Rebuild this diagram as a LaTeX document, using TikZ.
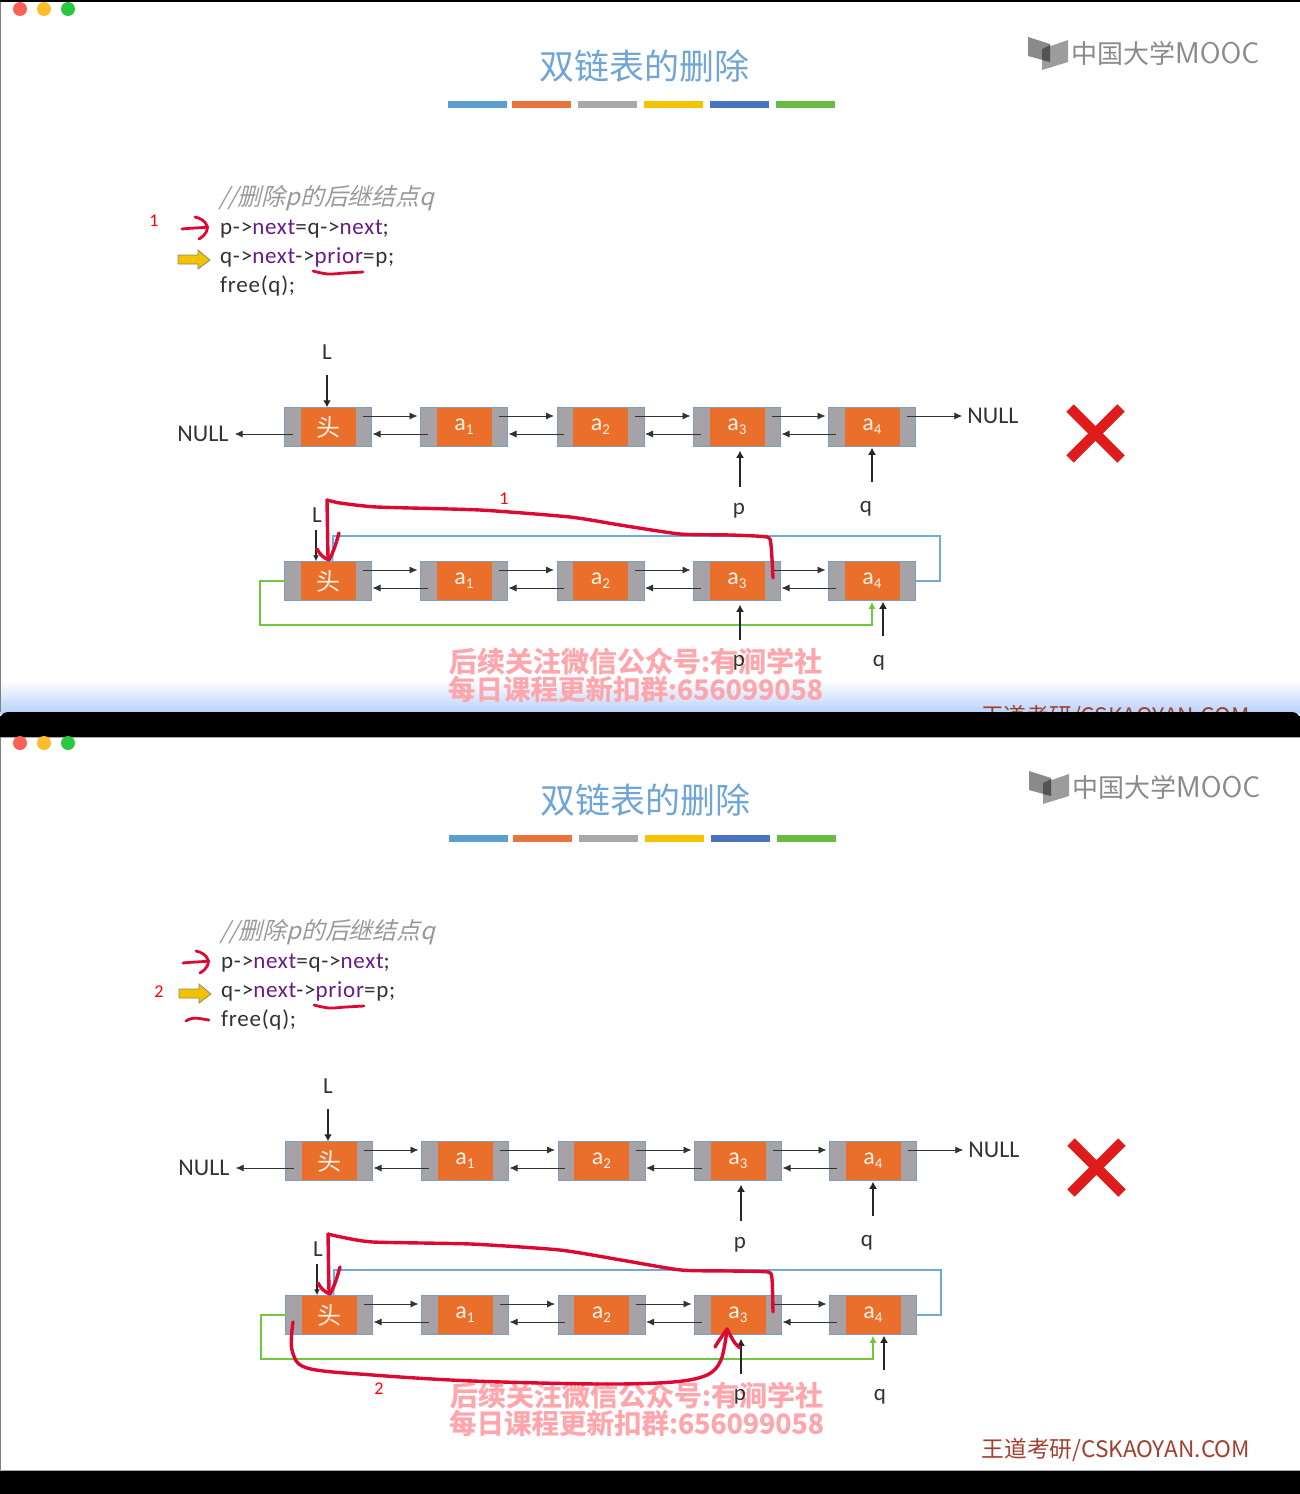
\documentclass[tikz,border=0pt]{standalone}
\usepackage{fontspec}
\setmainfont{Carlito}
\newfontfamily\codefont[LetterSpace=3.2]{Carlito}
\newfontfamily\cjk{Noto Sans CJK SC}
\newfontfamily\cjkslant[FakeSlant=0.25]{Noto Sans CJK SC}
\newfontfamily\cjkbold[FakeBold=0.7]{Noto Sans CJK SC Bold}
\usetikzlibrary{arrows.meta,calc}
\definecolor{titleblue}{HTML}{6FA6D6}
\definecolor{barblue}{HTML}{5B9FD0}
\definecolor{barorange}{HTML}{E8743A}
\definecolor{bargrey}{HTML}{A8A8A8}
\definecolor{bargold}{HTML}{F5C400}
\definecolor{barnavy}{HTML}{4A72BE}
\definecolor{bargreen}{HTML}{68BC44}
\definecolor{gold}{HTML}{F2C200}
\definecolor{fadeblue}{HTML}{B9D1FA}
\definecolor{cellgrey}{HTML}{A6A3A8}
\definecolor{cellorange}{HTML}{EA6F2A}
\definecolor{celledge}{HTML}{7F9DB8}
\definecolor{inkdark}{HTML}{333333}
\definecolor{codepurple}{HTML}{6A1B8A}
\definecolor{penred}{HTML}{DC0A32}
\definecolor{markred}{HTML}{E01B1B}
\definecolor{loopblue}{HTML}{6FAAD8}
\definecolor{loopgreen}{HTML}{72C83C}
\definecolor{wm}{HTML}{FFA5AC}
\definecolor{footer}{HTML}{A2402E}
\definecolor{logogrey}{HTML}{8A8A8A}
\definecolor{dotred}{HTML}{FF5F57}
\definecolor{dotamber}{HTML}{FFBD2E}
\definecolor{dotgreen}{HTML}{28C940}
\newcommand{\fs}[1]{\fontsize{#1}{#1}\selectfont}
\newcommand{\sbs}[1]{\raisebox{-4pt}{\fs{15}#1}}
\tikzset{
 x=1pt,y=-1pt,
 greycell/.style={draw=celledge,line width=.8pt,fill=cellgrey,minimum width=87pt,minimum height=39.5pt,inner sep=0pt,outer sep=0pt},
 orangecell/.style={fill=cellorange,draw=none,minimum width=55pt,minimum height=38pt,inner sep=0pt,text=white!90!orange,font=\fs{24}},
 label/.style={inner sep=0pt,text=inkdark,font=\fs{23}},
 codeline/.style={inner sep=0pt,anchor=west,text=inkdark,font=\fs{23}\codefont},
 link/.style={draw=inkdark,line width=.8pt,-{Latex[length=8pt,width=7pt]}},
 pointer/.style={draw=black!85,line width=1.6pt,-{Latex[length=7pt,width=8pt]}},
 bluewire/.style={draw=loopblue,line width=1.8pt},
 greenwire/.style={draw=loopgreen,line width=1.8pt,-{Latex[length=7pt,width=7pt]}},
 pen/.style={draw=penred,line width=3.4pt,line cap=round,line join=round},
 pen2/.style={draw=penred,line width=2.8pt,line cap=round,line join=round},
 redmark/.style={inner sep=0pt,text=red,font=\fs{18}},
}
\newcommand{\listrow}[2]{%
 \node[greycell] (#1n0) at (328,#2) {};
 \node[greycell] (#1n1) at (464,#2) {};
 \node[greycell] (#1n2) at (600.5,#2) {};
 \node[greycell] (#1n3) at (737,#2) {};
 \node[greycell] (#1n4) at (872,#2) {};
 \node[orangecell] (#1t0) at (#1n0) {\cjk 头};
 \node[orangecell] (#1t1) at (#1n1) {a\sbs{1}};
 \node[orangecell] (#1t2) at (#1n2) {a\sbs{2}};
 \node[orangecell] (#1t3) at (#1n3) {a\sbs{3}};
 \node[orangecell] (#1t4) at (#1n4) {a\sbs{4}};
 \foreach \a/\b in {0/1,1/2,2/3,3/4}{
  \draw[link] ([shift={(-9,-11)}]#1n\a.east) -- ([shift={(-3,-11)}]#1n\b.west);
  \draw[link] ([shift={(7,7)}]#1n\b.west) -- ([shift={(1,7)}]#1n\a.east);
 }
}
\newcommand{\slidebase}[1]{%
 \node[inner sep=0pt,text=titleblue,font=\fs{35}\cjk] (#1title) at (644.5,66) {双链表的删除};
 \fill[fill=barblue] (448,101) rectangle (507,108);
 \fill[fill=barorange] (512,101) rectangle (571,108);
 \fill[fill=bargrey] (578,101) rectangle (637,108);
 \fill[fill=bargold] (644,101) rectangle (703,108);
 \fill[fill=barnavy] (710,101) rectangle (769,108);
 \fill[fill=bargreen] (776,101) rectangle (835,108);
 % MOOC logo
 \fill[logogrey] (1028,37) -- (1050,44) -- (1050,62) -- (1028,56) -- cycle;
 \fill[logogrey!85!white] (1068,40) -- (1068,62) -- (1042,70) -- (1042,49) -- cycle;
 \fill[logogrey!60!black] (1042,49) -- (1050,45) -- (1050,62) -- (1042,60) -- cycle;
 \node[inner sep=0pt,anchor=west,text=logogrey] (#1mooc) at (1071,53.5) {\fs{26}\cjk 中国大学\fs{30}\textsf{MOOC}};
 % code
 \node[inner sep=0pt,anchor=west,text=black!40,font=\fs{23.8}\cjkslant] (#1c0) at (219,198.5) {//删除p的后继结点q};
 \node[codeline] (#1c1) at (220,229) {p->\textcolor{codepurple}{next}=q->\textcolor{codepurple}{next};};
 \node[codeline] (#1c2) at (220,257) {q->\textcolor{codepurple}{next}->\textcolor{codepurple}{prior}=p;};
 \node[codeline] (#1c3) at (220,286) {free(q);};
 \draw[fill=gold,draw=gray!70!olive,line width=.8pt] (178,255) -- (198,255) -- (198,250) -- (210,260) -- (198,269) -- (198,264) -- (178,264) -- cycle;
 \draw[pen2] (182,229) .. controls (190,228) and (200,228) .. (208,227);
 \draw[pen2] (195,217) .. controls (206,219) and (214,230) .. (199,239);
 \draw[pen2] plot[smooth,tension=.6] coordinates {(313,271) (328,274) (345,273) (363,272)};
 % watermark
 \node[inner sep=0pt,text=wm,font=\fs{28}\cjkbold] (#1w1) at (635.5,661) {后续关注微信公众号:有涧学社};
 \node[inner sep=0pt,text=wm,font=\fs{27.5}\cjkbold] (#1w2) at (635.5,689) {每日课程更新扣群:656099058};
 % upper list
 \listrow{#1u}{427}
 \node[label,font=\fs{24}] (#1nl) at (203,434) {NULL};
 \node[label,font=\fs{24}] (#1nr) at (993,416) {NULL};
 \draw[link] ([shift={(8,7)}]#1un0.west) -- ([xshift=6pt]#1nl.east);
 \draw[link] ([shift={(-9,-11)}]#1un4.east) -- ([xshift=-5pt]#1nr.west);
 \node[label] (#1L) at (327,352) {L};
 \coordinate (#1Ls) at (327,375);
 \draw[pointer] (#1Ls) -- (#1Ls |- #1un0.north);
 \node[label] (#1p) at (739,511) {p};
 \node[label] (#1q) at (866,509) {q};
 \coordinate (#1ps) at (740,487);
 \coordinate (#1qs) at (872,482);
 \draw[pointer] (#1ps) -- ([yshift=-4pt]#1ps |- #1un3.south);
 \draw[pointer] (#1qs) -- ([yshift=-1pt]#1qs |- #1un4.south);
 % lower list
 \listrow{#1d}{581}
 \coordinate (#1bl) at (333,536);
 \coordinate (#1gl) at (260,625);
 \draw[bluewire] (#1dn4.east) -- (940,581) -- (940,536) -- (#1bl) -- ([xshift=4.5pt]#1dn0.north);
 \draw[greenwire] (#1dn0.west) -- (#1gl |- #1dn0.west) -- (#1gl) -- (#1dn4.south |- #1gl) -- ([yshift=-1pt]#1dn4.south);
 \node[label] (#1Lb) at (317,515) {L};
 \coordinate (#1Lbs) at (316,530);
 \draw[draw=black!85,line width=1.3pt,-{Latex[length=6pt,width=6pt]}] (#1Lbs) -- (#1Lbs |- #1dn0.north);
 \node[label] (#1pb) at (739,663) {p};
 \node[label] (#1qb) at (879,663) {q};
 \coordinate (#1pbs) at (740,640);
 \coordinate (#1qbs) at (883,636);
 \draw[pointer] (#1pbs) -- ([yshift=-4pt]#1pbs |- #1dn3.south);
 \draw[pointer] (#1qbs) -- ([yshift=-1pt]#1qbs |- #1dn4.south);
 % red X
 \draw[draw=markred,line width=10.5pt] (1070,408) -- (1121,459);
 \draw[draw=markred,line width=10.5pt] (1121,408) -- (1070,459);
 % red hand-drawn pointer head at L
 \draw[pen] (317,549) .. controls (320,555) and (324,558) .. (329,560) .. controls (333,553) and (336,544) .. (339,533);
}
\begin{document}
\begin{tikzpicture}
\useasboundingbox (0,0) rectangle (1300,1494);
\fill[black] (0,0) rectangle (1300,1494);
\fill[white] (0,2) rectangle (1300,716);
\shade[top color=white,bottom color=fadeblue] (0,680) rectangle (1300,713);
\draw[gray,line width=.8pt] (.5,2) -- (.5,712);
% first slide
\begin{scope}
 \clip (0,2) rectangle (1300,712);
 \slidebase{a}
 \draw[pen] plot[smooth,tension=.35] coordinates {(773,578) (771,545) (767,537) (730,535) (680,534) (620,525) (570,517) (480,510) (377,507) (340,503) (327,500)};
 \draw[pen] (327,500) -- (328,558);
 \node[redmark] (a1n) at (154,221) {1};
 \node[redmark] (a1m) at (504,499) {1};
 \node[inner sep=0pt,text=footer,font=\fs{22.7}\cjk] (afoot) at (1115.5,717) {王道考研/CSKAOYAN.COM};
\end{scope}
\fill[black,rounded corners=8pt] (0,712) rectangle (1300,750);
\fill[white] (0,737) rectangle (1300,1470);
\fill[black] (0,1470) rectangle (1300,1494);
\draw[gray!70,line width=.8pt] (0,737) -- (1300,737);
\draw[gray!70,line width=.8pt] (0,1470) -- (1300,1470);
\draw[gray,line width=.8pt] (.5,737) -- (.5,1470);
% second slide
\begin{scope}[shift={(1,734)}]
 \slidebase{b}
 \draw[pen] plot[smooth,tension=.35] coordinates {(772,578) (771,545) (767,538) (730,537) (680,536) (620,526) (559,516) (470,510) (372,508) (340,503) (327,500)};
 \draw[pen] (327,500) -- (328,558);
 \draw[pen2] (185,287) .. controls (192,282) and (200,285) .. (208,286);
 \draw[pen] plot[smooth,tension=.55] coordinates {(292,588) (291,616) (306,634) (372,641) (472,647) (600,650) (672,648) (706,641) (720,626) (726,596)};
 \draw[pen] (714,613) .. controls (718,606) and (722,601) .. (726,595) .. controls (730,602) and (733,610) .. (739,614);
 \node[redmark] (b2n) at (158,258) {2};
 \node[redmark] (b2m) at (378,655) {2};
 \node[inner sep=0pt,text=footer,font=\fs{22.7}\cjk] (bfoot) at (1115,716) {王道考研/CSKAOYAN.COM};
\end{scope}
% window buttons
\fill[fill=dotred] (20,9) circle (7);
\fill[fill=dotamber] (44,9) circle (7);
\fill[fill=dotgreen] (68,9) circle (7);
\fill[fill=dotred] (20,743) circle (7);
\fill[fill=dotamber] (44,743) circle (7);
\fill[fill=dotgreen] (68,743) circle (7);
\end{tikzpicture}
\end{document}
